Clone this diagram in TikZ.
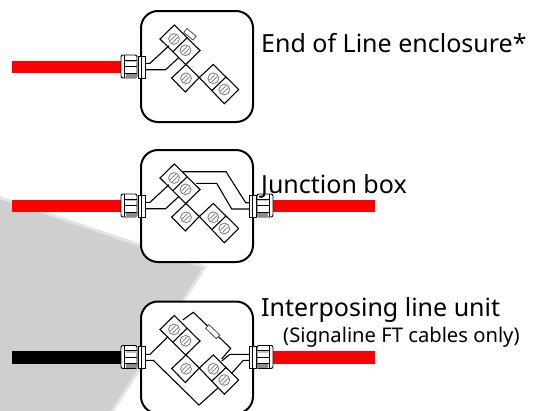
\documentclass[tikz,border=0pt]{standalone}
\usepackage{fontspec}
\setmainfont{Noto Sans}
\definecolor{ggray}{HTML}{CFCFCF}
\definecolor{gedge}{HTML}{E4E4E4}
\definecolor{screwc}{HTML}{777777}
\tikzset{
  boxline/.style={draw=black,line width=2pt,fill=white,rounded corners=17pt},
  wire/.style={draw=black,line width=1.1pt,line join=miter},
  term/.style={draw=black,line width=1.1pt,fill=white,line join=miter},
  cablered/.style={fill=red,draw=none},
  cableblack/.style={fill=black,draw=none},
  lbl/.style={anchor=base west,inner sep=0pt,font=\fontsize{25pt}{26pt}\selectfont},
  sublbl/.style={anchor=base west,inner sep=0pt,font=\fontsize{20.2pt}{22pt}\selectfont},
  glandpart/.style={draw=black,line width=0.9pt,fill=white}
}
\newcommand{\screw}[2]{%
  \begin{scope}[shift={(#1,#2)}]
    \draw[screwc,line width=0.8pt,fill=white] (0,0) circle (5.4);
    \draw[screwc,line width=0.7pt] (-3.7,1.6)--(1.6,-3.7) (-1.6,3.7)--(3.7,-1.6);
  \end{scope}}
\newcommand{\terminals}{%
  \path[term] (174.3,25)--(200,50.5)--(185.7,64.5)--(160,39)--cycle;
  \draw[wire] (187.2,37.7)--(172.8,51.7);
  \path[term] (186,64.5)--(199.3,77.5)--(185.3,92)--(171.7,78)--cycle;
  \path[term] (213.3,64.5)--(238.7,89.5)--(224.3,103.7)--(199.3,77.5)--cycle;
  \draw[wire] (226,77)--(211.8,90.6);
  \screw{174}{39}\screw{185.5}{50.3}\screw{186}{78.3}\screw{213.3}{78.3}\screw{224.3}{89.5}}
\newcommand{\leftgland}{%
  \path[glandpart,rounded corners=2pt] (121,55) rectangle (137,78);
  \draw[black,line width=0.8pt] (124.5,55)--(124.5,78);
  \draw[black,line width=0.8pt] (124.5,60)--(137,60) (124.5,66.5)--(137,66.5) (124.5,73)--(137,73);
  \fill[black!45] (126,73.6) rectangle (136.6,77.5);
  \fill[black!25] (126,60.5) rectangle (136.6,62);
  \path[glandpart] (138,56) rectangle (145,78);
  \draw[black,line width=0.7pt] (141.3,56)--(141.3,78);
}
\newcommand{\rightgland}{%
  \begin{scope}[xscale=-1,xshift=-394pt]\leftgland\end{scope}}
\begin{document}
\begin{tikzpicture}[x=1pt,y=-1pt]
\useasboundingbox (0,0) rectangle (543,410);
\fill[white] (0,0) rectangle (543,410);
\path[fill=ggray,draw=gedge,line width=3pt,line join=miter] (-5,196) -- (205,267) -- (110,415) -- (-5,415) -- cycle;
% Enclosure 1
\path[boxline] (141,11) rectangle (253,122);
\terminals
\draw[wire] (145,63.3)--(150,63.3)--(169,45.7);
\draw[wire] (145,69.7)--(165.7,69.7)--(179,57.3);
\path[term,line width=0.8pt,draw=black!70,rotate around={-40:(190,34.3)}] (184,31.8) rectangle (196,36.8);
\fill[cablered] (12,60.5) rectangle (121,73);
\leftgland
% Enclosure 2
\begin{scope}[yshift=-139pt]
\path[boxline] (141,11) rectangle (253,123);
\terminals
\draw[wire] (145,63.3)--(150,63.3)--(169,45.7);
\draw[wire] (145,69.7)--(165.7,69.7)--(179,57.3);
\draw[wire] (183,32.7)--(226,32.7)--(245.7,63.7)--(249,63.7);
\draw[wire] (196,44.3)--(216.7,44.3)--(231.7,70)--(249,70);
\fill[cablered] (12,60.5) rectangle (121,73);
\fill[cablered] (273,60.5) rectangle (375,73);
\leftgland\rightgland
\end{scope}
% Enclosure 3
\begin{scope}[yshift=-290.5pt]
\path[boxline] (141,11) rectangle (253,123);
\terminals
\draw[wire] (145,63.8)--(150,63.8)--(168,46.2);
\draw[wire] (145,69.8)--(153.3,69.8)--(199,114.5)--(218.3,97.2);
\draw[wire] (182.7,29.5)--(193.3,21.8)--(230.7,57.8)--(221.7,68.5);
\draw[wire] (221.7,70.5)--(230,63.8)--(249,63.8);
\draw[wire] (231.7,82.8)--(243.3,69.8)--(249,69.8);
\path[term,line width=0.8pt,draw=black!70,rotate around={-44:(212.7,41.2)}] (205.2,38.7) rectangle (220.2,43.7);
\fill[cableblack] (12,60.5) rectangle (121,73);
\fill[cablered] (273,60.5) rectangle (375,73);
\leftgland\rightgland
\end{scope}
\node[lbl] (t1) at (261,52) {End of Line enclosure*};
\node[lbl] (t2) at (261,193) {Junction box};
\node[lbl] (t3) at (261,316) {Interposing line unit};
\node[sublbl] (t4) at (283,342) {(Signaline FT cables only)};
\end{tikzpicture}
\end{document}
